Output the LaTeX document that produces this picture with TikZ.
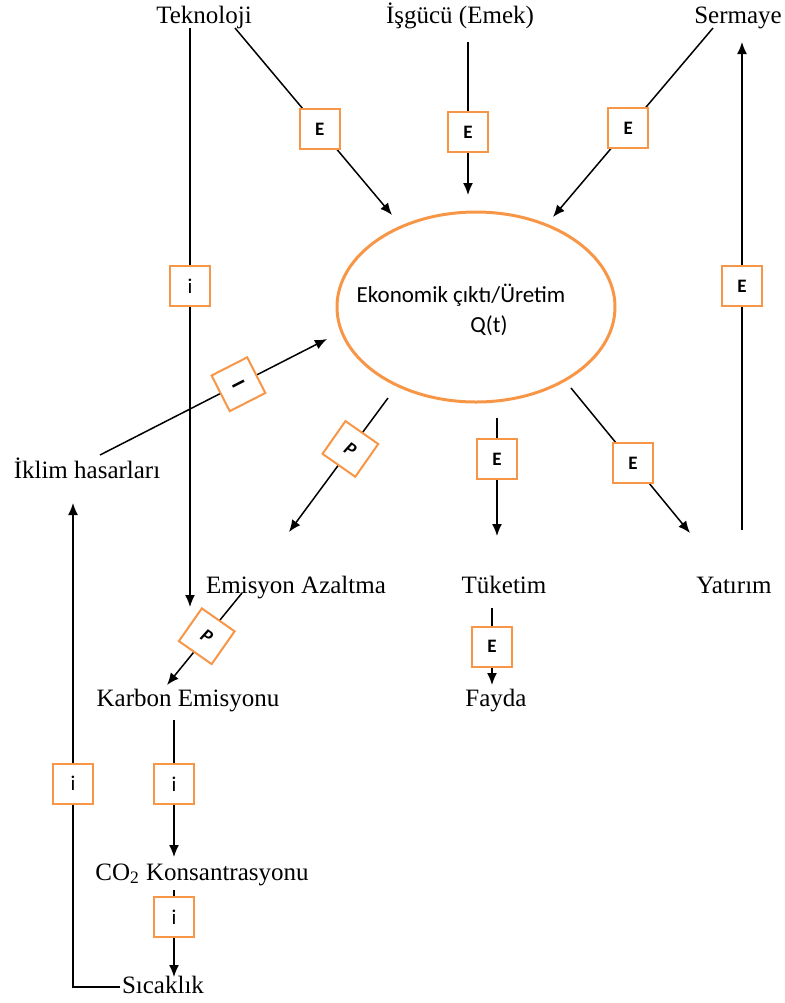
\documentclass[tikz,border=0pt]{standalone}
\usepackage{fontspec}
\setmainfont{Liberation Serif}
\newfontfamily\calfont{Carlito}
\usetikzlibrary{arrows.meta,shapes.geometric}
\definecolor{orangeF}{HTML}{F79646}
\begin{document}
\begin{tikzpicture}[x=0.5pt,y=-0.5pt,
  lbl/.style={font=\fontsize{12.5}{14}\selectfont, inner sep=0, anchor=base},
  elbl/.style={font=\calfont\fontsize{11.5}{13}\selectfont, inner sep=0, anchor=base},
  ebox/.style={draw=orangeF, line width=1pt, fill=white, minimum size=20pt, inner sep=0, font=\calfont\bfseries\fontsize{9.5}{11}\selectfont},
  ibox/.style={ebox, font=\calfont\fontsize{10.5}{12}\selectfont},
  pbox/.style={ebox, rotate=-35, font=\calfont\bfseries\itshape\fontsize{9.5}{11}\selectfont},
  arr/.style={line width=0.75pt, -{Latex[length=6pt,width=5pt]}},
  ln/.style={line width=0.75pt}]
\useasboundingbox (0,0) rectangle (785,1003);

% ellipse
\node[draw=orangeF, line width=1.5pt, ellipse, minimum width=139pt, minimum height=95pt, inner sep=0] (eco) at (476,307) {};
\node[elbl] (ecot) at (461,302) {Ekonomik çıktı/Üretim};
\node[elbl] (q) at (489,332) {Q(t)};

% labels
\node[lbl] (tek) at (204,23) {Teknoloji};
\node[lbl] (isg) at (460,23) {İşgücü (Emek)};
\node[lbl] (ser) at (738,23) {Sermaye};
\node[lbl] (ikl) at (87,478) {İklim hasarları};
\node[lbl] (ema) at (296,593) {Emisyon Azaltma};
\node[lbl] (tuk) at (504,593) {Tüketim};
\node[lbl] (yat) at (734,593) {Yatırım};
\node[lbl] (kar) at (188,706) {Karbon Emisyonu};
\node[lbl] (fay) at (496,706) {Fayda};
\node[lbl] (co2) at (202,880) {CO\textsubscript{2} Konsantrasyonu};
\node[lbl] (sic) at (163,993) {Sıcaklık};

% connector end points
\coordinate (tekA) at (235,28);   \coordinate (ecoA) at (392,215);
\coordinate (isgA) at (468,42);   \coordinate (ecoB) at (468,195);
\coordinate (serA) at (713,28);   \coordinate (ecoC) at (553,217);
\coordinate (yatA) at (742,530);  \coordinate (serB) at (742,42);
\coordinate (tekB) at (190,28);   \coordinate (emaA) at (190,607);
\coordinate (iklA) at (100,455);  \coordinate (ecoD) at (327,339);
\coordinate (ecoE) at (388,398);  \coordinate (emaB) at (289,532);
\coordinate (ecoF) at (497,418);  \coordinate (tukA) at (497,536);
\coordinate (ecoG) at (571,388);  \coordinate (yatB) at (690,533);
\coordinate (emaC) at (242,593);  \coordinate (karA) at (167,685);
\coordinate (tukB) at (492,608);  \coordinate (fayA) at (492,685);
\coordinate (karB) at (174,720);  \coordinate (co2A) at (174,857);
\coordinate (co2B) at (174,890);  \coordinate (sicA) at (174,977);
\coordinate (sicB) at (120,987);  \coordinate (iklB) at (73,503);

% connectors
\draw[arr] (tekA) -- node[ebox,pos=0.54] (b1) {E} (ecoA);
\draw[arr] (isgA) -- node[ebox,pos=0.59] (b2) {E} (ecoB);
\draw[arr] (serA) -- node[ebox,pos=0.53] (b3) {E} (ecoC);
\draw[arr] (yatA) -- node[ebox,pos=0.50] (b4) {E} (serB);
\draw[arr] (tekB) -- node[ibox,pos=0.446] (b5) {i} (emaA);
\draw[arr] (iklA) -- node[ebox,rotate=27,pos=0.61,font=\calfont\bfseries\fontsize{10}{11}\selectfont] (b6) {\rotatebox{90}{I}} (ecoD);
\draw[arr] (ecoE) -- node[pbox,pos=0.38] (b7) {P} (emaB);
\draw[arr] (ecoF) -- node[ebox,pos=0.35] (b8) {E} (tukA);
\draw[arr] (ecoG) -- node[ebox,pos=0.52] (b9) {E} (yatB);
\draw[arr] (emaC) -- node[pbox,pos=0.47] (b10) {P} (karA);
\draw[arr] (tukB) -- node[ebox,pos=0.50] (b11) {E} (fayA);
\draw[arr] (karB) -- node[ibox,pos=0.47] (b12) {i} (co2A);
\draw[arr] (co2B) -- node[ibox,pos=0.31] (b13) {i} (sicA);
\draw[arr] (sicB) -| node[ibox,pos=0.71] (b14) {i} (iklB);
\end{tikzpicture}
\end{document}
